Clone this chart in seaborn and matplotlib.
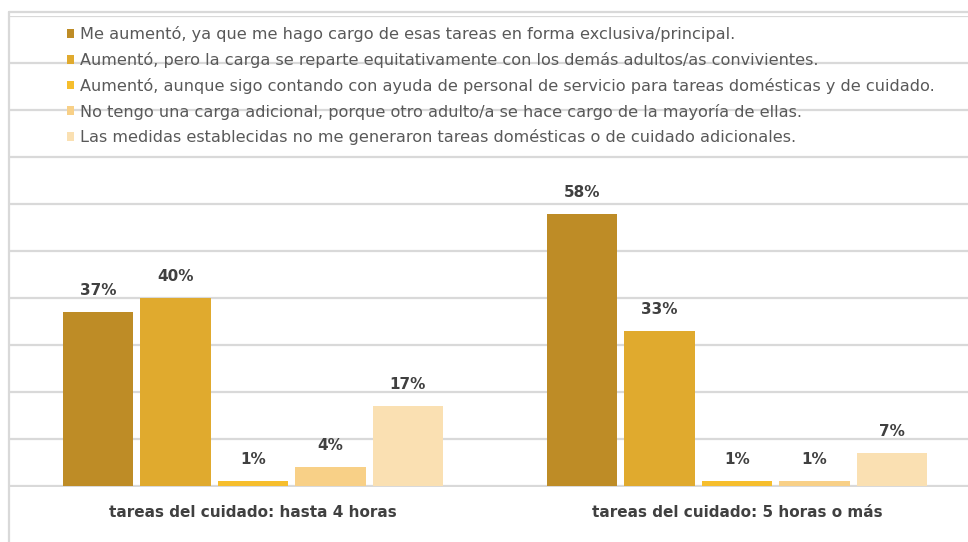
import matplotlib
matplotlib.use("Agg")
import matplotlib.pyplot as plt
from matplotlib.lines import Line2D
import seaborn as sns
import pandas as pd

# Groups on the x axis
grupos = ["tareas del cuidado: hasta 4 horas", "tareas del cuidado: 5 horas o más"]

# Answer categories (legend)
respuestas = [
    "Me aumentó, ya que me hago cargo de esas tareas en forma exclusiva/principal.",
    "Aumentó, pero la carga se reparte equitativamente con los demás adultos/as convivientes.",
    "Aumentó, aunque sigo contando con ayuda de personal de servicio para tareas domésticas y de cuidado.",
    "No tengo una carga adicional, porque otro adulto/a se hace cargo de la mayoría de ellas.",
    "Las medidas establecidas no me generaron tareas domésticas o de cuidado adicionales.",
]

# Percentages per answer, one value per group
hasta_4_horas = [37, 40, 1, 4, 17]
cinco_o_mas = [58, 33, 1, 1, 7]

colores = ["#BE8C26", "#E0AA2E", "#F6BE2D", "#F8D087", "#FAE0B2"]

df = pd.DataFrame({
    "grupo": [grupos[0]] * len(respuestas) + [grupos[1]] * len(respuestas),
    "respuesta": respuestas * 2,
    "pct": hasta_4_horas + cinco_o_mas,
})

sns.set_theme(style="white")
plt.rcParams["font.family"] = ["DejaVu Sans"]

W, H = 968, 542
fig = plt.figure(figsize=(W / 100, H / 100), dpi=100)
ax = fig.add_axes([10 / W, 1 - 487 / H, 1 - 10 / W, (487 - 15.5) / H])

sns.barplot(data=df, x="grupo", y="pct", hue="respuesta", hue_order=respuestas,
            order=grupos, palette=colores, width=0.8, gap=0.09, ax=ax,
            legend=True, saturation=1, linewidth=0, edgecolor="none")

ax.set_ylim(-0.2, 100.2)
ax.set_xlim(-0.502, 1.477)
ax.set_yticks(range(0, 101, 10))
ax.set_yticklabels([])
ax.yaxis.grid(True, color="#D9D9D9", linewidth=1.6)
ax.set_axisbelow(True)
for s in ax.spines.values():
    s.set_visible(False)
ax.tick_params(axis="both", length=0)
ax.set_xlabel("")
ax.set_ylabel("")
for lbl in ax.get_xticklabels():
    lbl.set_fontsize(11)
    lbl.set_fontweight("bold")
    lbl.set_color("#404040")
ax.tick_params(axis="x", pad=13)

for cont, serie in zip(ax.containers, respuestas):
    vals = df.loc[df["respuesta"] == serie, "pct"].tolist()
    ax.bar_label(cont, labels=[f"{v}%" for v in vals], padding=10,
                 fontsize=11, fontweight="bold", color="#404040")

handles, labels = ax.get_legend_handles_labels()
ax.get_legend().remove()
fig.legend(handles, labels, loc="upper left", bbox_to_anchor=(67 / W, 1 - 26.5 / H),
           frameon=False, fontsize=11.6, handlelength=0.45, handleheight=0.45,
           handletextpad=0.35, labelspacing=0.6, borderpad=0, borderaxespad=0,
           labelcolor="#595959")

# Chart area border (top and left)
fig.add_artist(Line2D([8.5 / W, 1], [1 - 11.5 / H, 1 - 11.5 / H], color="#D9D9D9",
                      linewidth=1.6, transform=fig.transFigure))
fig.add_artist(Line2D([8.5 / W, 8.5 / W], [1 - 11.5 / H, 0], color="#D9D9D9",
                      linewidth=1.6, transform=fig.transFigure))

fig.savefig("out.png", dpi=100)
